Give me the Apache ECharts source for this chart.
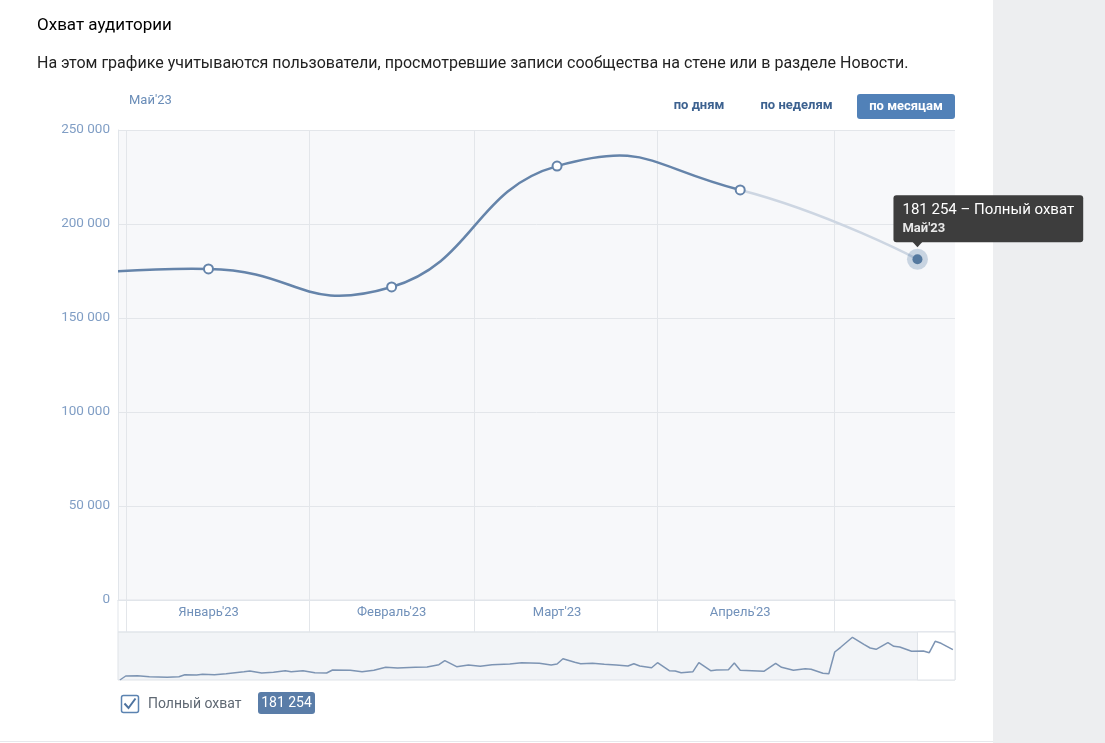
<!DOCTYPE html>
<html><head><meta charset="utf-8">
<script src="https://cdn.jsdelivr.net/npm/echarts@6/dist/echarts.min.js"></script>
<style>html,body{margin:0;padding:0;background:#fff}#c{width:1105px;height:743px}</style>
</head><body><div id="c"></div>
<script>
// ---------- texts ----------
const TITLE = 'Охват аудитории';
const SUBTITLE = 'На этом графике учитываются пользователи, просмотревшие записи сообщества на стене или в разделе Новости.';
const PERIOD_LABEL = "Май'23";
const PERIOD_BUTTONS = ['по дням', 'по неделям', 'по месяцам'];
const SERIES_NAME = 'Полный охват';

// ---------- monthly series ----------
const monthDates = ['2022-12-15', '2023-01-15', '2023-02-15', '2023-03-15', '2023-04-15', '2023-05-15'];
const monthNames = ["Декабрь'22", "Январь'23", "Февраль'23", "Март'23", "Апрель'23", "Май'23"];
const reachValues = [170000, 176100, 166500, 230800, 218100, 181254];
const labeledMonths = ['2023-01-15', '2023-02-15', '2023-03-15', '2023-04-15'];
const monthStarts = ['2023-01-01', '2023-02-01', '2023-03-01', '2023-04-01', '2023-05-01'];
const axisRange = ['2022-12-30 16:30', '2023-05-21 08:30'];
const yMax = 250000, yStep = 50000;
const selectionStart = '2023-05-15';

// ---------- daily series (navigator) ----------
const dailyDates = ['2022-12-31','2023-01-01','2023-01-03','2023-01-05','2023-01-08','2023-01-10','2023-01-11','2023-01-13','2023-01-14','2023-01-16','2023-01-18','2023-01-21','2023-01-22','2023-01-24','2023-01-26','2023-01-28','2023-01-29','2023-01-31',
'2023-02-02','2023-02-04','2023-02-05','2023-02-08','2023-02-10','2023-02-12','2023-02-14','2023-02-16','2023-02-19','2023-02-21','2023-02-23','2023-02-24','2023-02-26','2023-02-28',
'2023-03-02','2023-03-04','2023-03-07','2023-03-09','2023-03-12','2023-03-14','2023-03-15','2023-03-16','2023-03-18','2023-03-19','2023-03-21','2023-03-23','2023-03-25','2023-03-27','2023-03-28','2023-03-29','2023-03-31',
'2023-04-01','2023-04-03','2023-04-04','2023-04-05','2023-04-07','2023-04-08','2023-04-10','2023-04-11','2023-04-13','2023-04-14','2023-04-15','2023-04-17','2023-04-19','2023-04-21','2023-04-22','2023-04-24','2023-04-26','2023-04-27','2023-04-29','2023-04-30',
'2023-05-01','2023-05-02','2023-05-04','2023-05-06','2023-05-07','2023-05-08','2023-05-10','2023-05-11','2023-05-12','2023-05-14','2023-05-16','2023-05-17','2023-05-18','2023-05-19','2023-05-21'];
const dailyValues = [0,4000,4300,3300,2700,3300,5300,5000,5700,5300,6300,8300,9000,7000,7700,9300,8300,9300,
7300,7000,10000,9700,8300,9700,12700,12000,12700,13000,15300,19300,13300,15000,
13700,15300,16000,17300,16700,15000,16000,21300,17700,16300,16700,15700,15000,14000,16300,14000,12300,
17300,9300,9000,7300,8300,17300,9300,10000,10300,17000,9700,9300,8700,16700,12700,9700,11300,10700,6700,6300,
28000,32700,42700,35300,32000,30700,37300,33700,33000,28700,29000,27300,38700,36700,30300];
const dailyMax = 48000;

// ---------- helpers ----------
const ts = s => { const [d, t = '00:00'] = s.split(' '); const [y, m, dd] = d.split('-').map(Number); const [h, mi] = t.split(':').map(Number); return new Date(y, m - 1, dd, h, mi).getTime(); };
const fmt = v => String(v).replace(/\B(?=(\d{3})+(?!\d))/g, ' ');
const FONT = 'Roboto, "Noto Sans", sans-serif';
const DARK = '#6584aa', LIGHT = '#cdd6e2';
const SMOOTH = 0.5;

const last = monthDates.length - 1;
const xMin = ts(axisRange[0]), xMax = ts(axisRange[1]);
const monthData = monthDates.map((d, i) => [ts(d), reachValues[i]]);
const nameByTs = {}; monthDates.forEach((d, i) => nameByTs[ts(d)] = monthNames[i]);

// layout
const G = { left: 118, top: 130, width: 837, height: 470 };
const BAND = 32, NAV = 48;

// spline segment i-1 -> i, control points from neighbours (cardinal-type spline), pixels from the axes
function renderSegment(params, api) {
  const i = params.dataIndex;
  if (i === 0) return;
  const P = monthData.map(p => api.coord(p));
  const n = P.length;
  const ctrl = (j, side) => {
    if (j === 0 || j === n - 1) return P[j];
    const slope = (P[j + 1][1] - P[j - 1][1]) / (P[j + 1][0] - P[j - 1][0]);
    const dx = side > 0 ? SMOOTH * (P[j + 1][0] - P[j][0]) : -SMOOTH * (P[j][0] - P[j - 1][0]);
    return [P[j][0] + dx, P[j][1] + slope * dx];
  };
  const a = P[i - 1], b = P[i], c1 = ctrl(i - 1, 1), c2 = ctrl(i, -1);
  return {
    type: 'bezierCurve',
    shape: { x1: a[0], y1: a[1], cpx1: c1[0], cpy1: c1[1], cpx2: c2[0], cpy2: c2[1], x2: b[0], y2: b[1] },
    style: { stroke: i === last ? LIGHT : DARK, lineWidth: 2.5, fill: null, lineCap: 'round' }
  };
}

const chart = echarts.init(document.getElementById('c'), null, { renderer: 'canvas' });
chart.setOption({
  animation: false,
  textStyle: { fontFamily: FONT },
  title: [
    { text: TITLE, left: 37, top: 15, padding: 0, textStyle: { fontSize: 17, fontWeight: 'normal', color: '#000', lineHeight: 22, fontFamily: FONT } },
    { text: SUBTITLE, left: 37, top: 54, padding: 0, textStyle: { fontSize: 16, fontWeight: 'normal', color: '#222', lineHeight: 20, fontFamily: FONT } }
  ],
  grid: [
    { left: G.left, top: G.top, width: G.width, height: G.height, show: true, backgroundColor: '#f7f8fa', borderWidth: 0, containLabel: false },
    { left: G.left, top: G.top + G.height + BAND, width: G.width, height: NAV, show: true, backgroundColor: '#f2f4f7', borderColor: '#dfe3e8', borderWidth: 1, containLabel: false }
  ],
  xAxis: [
    {
      type: 'value', gridIndex: 0, min: xMin, max: xMax, scale: true,
      axisLine: { show: true, onZero: false, lineStyle: { color: '#e1e5ea', width: 1 } },
      axisTick: { show: true, customValues: monthStarts.map(ts), length: BAND, inside: false, lineStyle: { color: '#e3e6ea' } },
      axisLabel: { show: true, customValues: labeledMonths.map(ts), formatter: v => nameByTs[v] || '', color: '#7191ba', fontSize: 13, margin: 6, fontFamily: FONT },
      splitLine: { show: true, customValues: monthStarts.map(ts), lineStyle: { color: '#e3e6ea' } }
    },
    { type: 'value', gridIndex: 1, min: xMin, max: xMax, scale: true, show: false }
  ],
  yAxis: [
    {
      type: 'value', gridIndex: 0, min: 0, max: yMax, interval: yStep,
      axisLine: { show: true, lineStyle: { color: '#e1e5ea' } },
      axisTick: { show: false },
      axisLabel: { formatter: v => fmt(v), color: '#809ec5', fontSize: 13.5, margin: 8, fontFamily: FONT },
      splitLine: { show: true, lineStyle: { color: '#e3e6ea' } }
    },
    { type: 'value', gridIndex: 1, min: 0, max: dailyMax, show: false }
  ],
  series: [
    {
      type: 'custom', name: SERIES_NAME, xAxisIndex: 0, yAxisIndex: 0, data: monthData,
      renderItem: renderSegment, clip: true, z: 3, silent: true
    },
    {
      type: 'scatter', xAxisIndex: 0, yAxisIndex: 0, z: 4, silent: true, clip: true,
      data: monthData.slice(0, last),
      symbol: 'circle', symbolSize: 9, itemStyle: { color: '#fff', borderColor: DARK, borderWidth: 2, opacity: 1 }, emphasis: { disabled: true }
    },
    {
      type: 'scatter', xAxisIndex: 0, yAxisIndex: 0, z: 5, silent: true,
      data: [monthData[last]],
      symbolSize: 21, itemStyle: { color: 'rgba(92,128,170,0.3)', opacity: 1 }, emphasis: { disabled: true },
      markPoint: {
        silent: true, label: { show: false },
        data: [{ coord: monthData[last], symbol: 'triangle', symbolRotate: 180, symbolSize: [11, 6], symbolOffset: [0, -15], itemStyle: { color: '#3d3d3d', opacity: 1 } }]
      }
    },
    {
      type: 'scatter', name: SERIES_NAME, xAxisIndex: 0, yAxisIndex: 0, z: 6, silent: true,
      data: [monthData[last]],
      symbolSize: 10, itemStyle: { color: '#55799f', opacity: 1 }, emphasis: { disabled: true },
      label: {
        show: true, position: [-19, -12], align: 'left', verticalAlign: 'bottom',
        backgroundColor: '#3d3d3d', borderRadius: 3, padding: [5, 9, 4, 9],
        formatter: p => `{a|${fmt(p.value[1])} – ${SERIES_NAME}}\n{b|${nameByTs[p.value[0]]}}`,
        rich: {
          a: { fontSize: 15, color: '#ffffff', lineHeight: 20, fontFamily: FONT },
          b: { fontSize: 13, color: '#e8e8e8', fontWeight: 'bold', lineHeight: 18, fontFamily: FONT }
        }
      }
    },
    {
      type: 'line', xAxisIndex: 1, yAxisIndex: 1, silent: true, symbol: 'none',
      data: dailyDates.map((d, i) => [ts(d), dailyValues[i]]),
      lineStyle: { color: '#7d94b3', width: 1.5 }, emphasis: { disabled: true },
      markArea: {
        silent: true,
        itemStyle: { color: '#ffffff', borderColor: '#dfe3e8', borderWidth: 1 },
        data: [[{ xAxis: ts(selectionStart) }, { xAxis: xMax }]]
      }
    }
  ],
  graphic: [
    { type: 'rect', z: -10, shape: { x: 993, y: 0, width: 112, height: 743 }, style: { fill: '#edeef0' } },
    { type: 'rect', z: -10, shape: { x: 0, y: 741, width: 993, height: 1 }, style: { fill: '#e7e8ec' } },
    { type: 'rect', z: 1, shape: { x: G.left, y: G.top + G.height, width: G.width, height: BAND }, style: { fill: 'none', stroke: '#e1e5ea', lineWidth: 1 } },
    { type: 'text', x: 129, y: 101, style: { text: PERIOD_LABEL, fill: '#6a8db8', font: '13px ' + FONT, textVerticalAlign: 'middle' } },
    { type: 'text', x: 699, y: 106, style: { text: PERIOD_BUTTONS[0], fill: '#3d6290', font: 'bold 13px ' + FONT, textAlign: 'center', textVerticalAlign: 'middle' } },
    { type: 'text', x: 796.5, y: 106, style: { text: PERIOD_BUTTONS[1], fill: '#3d6290', font: 'bold 13px ' + FONT, textAlign: 'center', textVerticalAlign: 'middle' } },
    { type: 'rect', shape: { x: 857, y: 94, width: 98, height: 25, r: 3 }, style: { fill: '#5181b8' } },
    { type: 'text', x: 906, y: 106.5, style: { text: PERIOD_BUTTONS[2], fill: '#fff', font: 'bold 13px ' + FONT, textAlign: 'center', textVerticalAlign: 'middle' } },
    { type: 'rect', shape: { x: 121.5, y: 695.5, width: 17, height: 17, r: 2 }, style: { fill: '#fff', stroke: '#5b83b1', lineWidth: 1.5 } },
    { type: 'polyline', shape: { points: [[124.5, 703.5], [128.5, 708], [135.5, 698.5]] }, style: { stroke: '#4e739f', lineWidth: 2, fill: 'none' } },
    { type: 'text', x: 148, y: 704, style: { text: SERIES_NAME, fill: '#5f6873', font: '14px ' + FONT, textVerticalAlign: 'middle' } },
    { type: 'rect', shape: { x: 258, y: 692, width: 57, height: 22, r: 3 }, style: { fill: '#5a7da8' } },
    { type: 'text', x: 286.5, y: 703, style: { text: fmt(reachValues[last]), fill: '#fff', font: '14px ' + FONT, textAlign: 'center', textVerticalAlign: 'middle' } }
  ]
});
</script></body></html>
